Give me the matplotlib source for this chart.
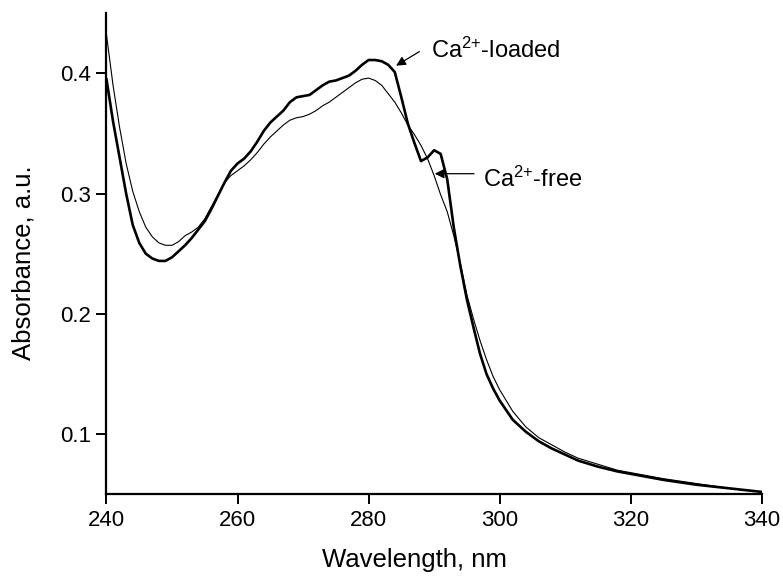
import matplotlib
matplotlib.use("Agg")
import matplotlib.pyplot as plt

plt.rcParams['font.family'] = ['Liberation Sans', 'DejaVu Sans']
plt.rcParams['mathtext.fontset'] = 'custom'
plt.rcParams['mathtext.rm'] = 'Liberation Sans'
plt.rcParams['mathtext.it'] = 'Liberation Sans:italic'
plt.rcParams['mathtext.bf'] = 'Liberation Sans:bold'

# Ca2+-loaded spectrum (thick line)
wl_loaded = [240, 241, 242, 243, 244, 245, 246, 247, 248, 249, 250, 251, 252, 253, 254,
             255, 256, 257, 258, 259, 260, 261, 262, 263, 264, 265, 266, 267, 268, 269,
             270, 271, 272, 273, 274, 275, 276, 277, 278, 279, 280, 281, 282, 283, 284,
             285, 286, 287, 288, 289, 290, 291, 292, 293, 294, 295, 296, 297, 298, 299,
             300, 302, 304, 306, 308, 310, 312, 315, 318, 320, 325, 330, 335, 340]
abs_loaded = [0.395, 0.360, 0.330, 0.300, 0.274, 0.259, 0.250, 0.246, 0.244, 0.244,
              0.247, 0.252, 0.257, 0.263, 0.270, 0.277, 0.287, 0.298, 0.309, 0.319,
              0.325, 0.329, 0.335, 0.343, 0.352, 0.359, 0.364, 0.369, 0.376, 0.380,
              0.381, 0.382, 0.386, 0.390, 0.393, 0.394, 0.396, 0.398, 0.402, 0.407,
              0.411, 0.411, 0.410, 0.407, 0.401, 0.380, 0.358, 0.342, 0.327, 0.330,
              0.336, 0.333, 0.312, 0.272, 0.240, 0.212, 0.189, 0.167, 0.150, 0.138,
              0.128, 0.112, 0.102, 0.094, 0.088, 0.083, 0.078, 0.073, 0.069, 0.067,
              0.062, 0.058, 0.055, 0.052]

# Ca2+-free spectrum (thin line)
wl_free = [240, 241, 242, 243, 244, 245, 246, 247, 248, 249, 250, 251, 252, 253, 254,
           255, 256, 257, 258, 259, 260, 261, 262, 263, 264, 265, 266, 267, 268, 269,
           270, 271, 272, 273, 274, 275, 276, 277, 278, 279, 280, 281, 282, 283, 284,
           285, 286, 287, 288, 289, 290, 291, 292, 293, 294, 295, 296, 297, 298, 299,
           300, 302, 304, 306, 308, 310, 312, 315, 318, 320, 325, 330, 335, 340]
abs_free = [0.432, 0.390, 0.355, 0.325, 0.302, 0.285, 0.272, 0.264, 0.259, 0.257,
            0.257, 0.260, 0.265, 0.268, 0.272, 0.279, 0.289, 0.299, 0.309, 0.315,
            0.319, 0.323, 0.328, 0.334, 0.341, 0.347, 0.352, 0.357, 0.361, 0.363,
            0.364, 0.366, 0.369, 0.373, 0.376, 0.380, 0.384, 0.388, 0.392, 0.395,
            0.396, 0.394, 0.390, 0.383, 0.376, 0.367, 0.357, 0.349, 0.340, 0.329,
            0.315, 0.299, 0.285, 0.265, 0.242, 0.216, 0.196, 0.178, 0.162, 0.148,
            0.137, 0.119, 0.106, 0.097, 0.091, 0.085, 0.080, 0.075, 0.070, 0.068,
            0.063, 0.059, 0.055, 0.052]

x_ticks = [240, 260, 280, 300, 320, 340]
y_ticks = [0.1, 0.2, 0.3, 0.4]
y_tick_labels = ['0.1', '0.2', '0.3', '0.4']

fig = plt.figure(figsize=(7.83, 5.77), dpi=100)
ax = fig.add_axes([0.136, 0.1433, 0.8368, 0.834])

ax.plot(wl_free, abs_free, color='black', lw=0.8, solid_joinstyle='round')
ax.plot(wl_loaded, abs_loaded, color='black', lw=1.9, solid_joinstyle='round')

ax.set_xlim(240, 340)
ax.set_ylim(0.05, 0.45)
ax.set_xticks(x_ticks)
ax.set_yticks(y_ticks)
ax.set_yticklabels(y_tick_labels)

for side in ('top', 'right'):
    ax.spines[side].set_visible(False)
for side in ('left', 'bottom'):
    ax.spines[side].set_linewidth(1.6)
ax.tick_params(direction='out', length=7, width=1.4, labelsize=16, pad=4)

ax.set_xlabel('Wavelength, nm', fontsize=18.5)
ax.set_ylabel('Absorbance, a.u.', fontsize=18.5)
ax.xaxis.set_label_coords(0.470, -0.111)
ax.yaxis.set_label_coords(-0.108, 0.482)

# annotation arrows and labels
arrow = dict(arrowstyle='-|>', color='black', lw=0.9, mutation_scale=14,
             shrinkA=0, shrinkB=0)
ax.annotate('', xy=(284.2, 0.4063), xytext=(287.75, 0.418), arrowprops=arrow)
ax.text(289.6, 0.4124, r'Ca$^{2{+}}$-loaded', fontsize=17, ha='left', va='baseline')
ax.annotate('', xy=(290.1, 0.3165), xytext=(296.1, 0.3165), arrowprops=arrow)
ax.text(297.5, 0.3057, r'Ca$^{2{+}}$-free', fontsize=17, ha='left', va='baseline')

fig.savefig('out.png', dpi=100)
